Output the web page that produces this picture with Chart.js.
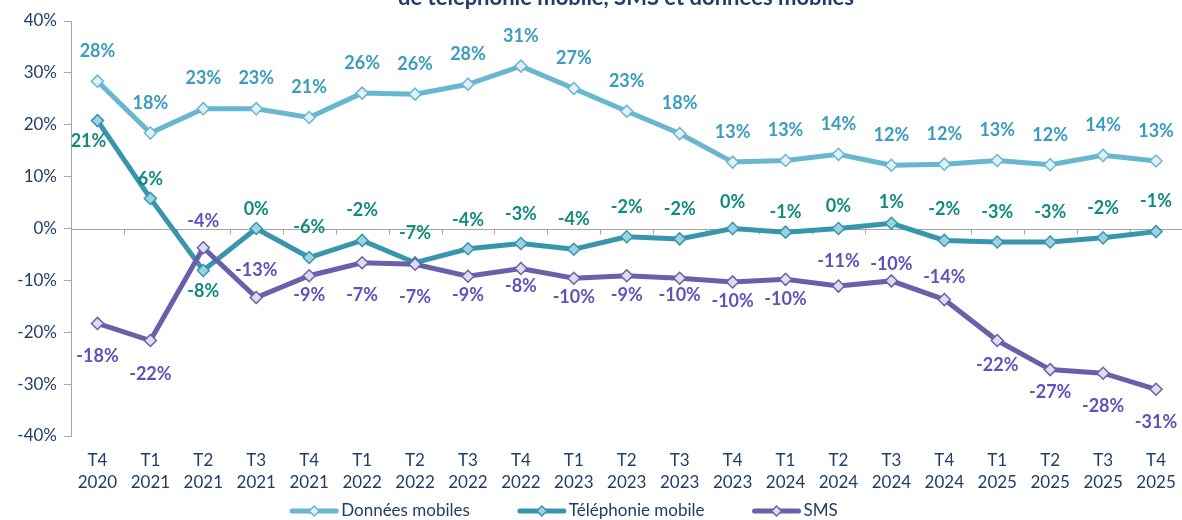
<!DOCTYPE html>
<html lang="fr">
<head>
<meta charset="utf-8">
<title>Évolution des volumes de téléphonie mobile, SMS et données mobiles</title>
<script src="https://cdn.jsdelivr.net/npm/chart.js@4/dist/chart.umd.min.js"></script>
<style>
  html, body { margin: 0; padding: 0; background: #fff; overflow: hidden; }
  #wrap { position: relative; width: 1190px; height: 520px; }
</style>
</head>
<body>
<div id="wrap"><canvas id="evo"></canvas></div>
<script>
// trimestres
const categories = [
  ['T4','2020'], ['T1','2021'], ['T2','2021'], ['T3','2021'], ['T4','2021'],
  ['T1','2022'], ['T2','2022'], ['T3','2022'], ['T4','2022'],
  ['T1','2023'], ['T2','2023'], ['T3','2023'], ['T4','2023'],
  ['T1','2024'], ['T2','2024'], ['T3','2024'], ['T4','2024'],
  ['T1','2025'], ['T2','2025'], ['T3','2025'], ['T4','2025']
];

// évolutions annuelles en %
const donnees = [28.4, 18.4, 23.1, 23.1, 21.4, 26.1, 25.9, 27.8, 31.3, 27.0, 22.6, 18.3, 12.8, 13.1, 14.3, 12.2, 12.4, 13.1, 12.3, 14.1, 13.0];
const telephonie = [20.8, 5.8, -8.1, 0.0, -5.6, -2.3, -6.6, -3.9, -2.9, -4.0, -1.6, -2.0, 0.0, -0.7, 0.0, 1.0, -2.3, -2.6, -2.6, -1.8, -0.6];
const sms = [-18.3, -21.6, -3.7, -13.3, -9.1, -6.6, -6.9, -9.2, -7.7, -9.6, -9.1, -9.6, -10.3, -9.8, -11.1, -10.1, -13.7, -21.6, -27.2, -27.9, -31.0];

const yTicks = [-40, -30, -20, -10, 0, 10, 20, 30, 40];

// placement des étiquettes (décalage vertical, px)
const donneesLabelDy = -30;
const telephonieLabelDy = [21, -19, 21, -19, -30, -30, -30, -29, -29, -30, -30, -30, -26, -20, -22, -21, -31, -30, -30, -30, -30];
const telephonieLabelDx = [-9, 0, 0, 0, 0, 0, 0, 0, 0, 0, 0, 0, 0, 0, 0, 0, 0, 0, 0, 0, 0];
const smsLabelDy = [33, 34, -27, -27, 19, 32, 33, 19, 18, 19, 19, 17, 19, 20, -25, -17, -22, 25, 23, 33, 33];

const FONT = 'Lato, "Liberation Sans", sans-serif';
const AXIS_GREY = '#a6a6a6';
const NAVY = '#1f3d6b';

// axe horizontal sur 0 % avec graduations entre catégories
const zeroLine = {
  id: 'zeroLine',
  beforeDatasetsDraw(chart) {
    const { ctx, chartArea: a, scales: { y } } = chart;
    const y0 = Math.round(y.getPixelForValue(0)) + 0.5;
    const step = (a.right - a.left) / categories.length;
    ctx.save();
    ctx.strokeStyle = AXIS_GREY;
    ctx.lineWidth = 1;
    ctx.beginPath();
    ctx.moveTo(a.left, y0);
    ctx.lineTo(a.right, y0);
    for (let i = 1; i <= categories.length; i++) {
      const gx = Math.round(a.left + i * step) + 0.5;
      ctx.moveTo(gx, y0);
      ctx.lineTo(gx, y0 + 5);
    }
    ctx.stroke();
    ctx.restore();
  }
};

// étiquettes de valeurs
const valueLabels = {
  id: 'valueLabels',
  afterDatasetsDraw(chart) {
    const { ctx } = chart;
    ctx.save();
    ctx.font = 'bold 18px ' + FONT;
    ctx.textAlign = 'center';
    ctx.textBaseline = 'middle';
    chart.data.datasets.forEach((ds, i) => {
      const meta = chart.getDatasetMeta(i);
      ctx.fillStyle = ds.labelColor;
      meta.data.forEach((pt, j) => {
        const dy = Array.isArray(ds.labelDy) ? ds.labelDy[j] : ds.labelDy;
        const dx = ds.labelDx ? ds.labelDx[j] : 0;
        ctx.fillText(Math.round(ds.data[j]) + '%', pt.x + dx, pt.y + dy);
      });
    });
    ctx.restore();
  }
};

// titre (coupé en haut) et légende en bas
const titleAndLegend = {
  id: 'titleAndLegend',
  afterDraw(chart) {
    const { ctx } = chart;
    ctx.save();
    ctx.fillStyle = NAVY;
    ctx.font = 'bold 22px ' + FONT;
    ctx.textAlign = 'center';
    ctx.textBaseline = 'alphabetic';
    ctx.fillText('de téléphonie mobile, SMS et données mobiles', 626, 5);

    const sets = [0, 1, 2].map(i => chart.data.datasets[i]);
    ctx.font = '17px ' + FONT;
    const sample = 48, gap = 48, pad = 3;
    const widths = sets.map(ds => sample + pad + ctx.measureText(ds.label).width);
    const total = widths.reduce((s, w) => s + w, 0) + gap * (sets.length - 1);
    let lx = 564 - total / 2;
    const ly = 511;
    sets.forEach((ds, k) => {
      ctx.strokeStyle = ds.borderColor;
      ctx.lineWidth = 5;
      ctx.lineCap = 'round';
      ctx.beginPath();
      ctx.moveTo(lx + 2, ly);
      ctx.lineTo(lx + sample - 2, ly);
      ctx.stroke();
      const cx = lx + sample / 2, r = 5;
      ctx.fillStyle = ds.pointBackgroundColor;
      ctx.lineWidth = 1.5;
      ctx.beginPath();
      ctx.moveTo(cx - r, ly);
      ctx.lineTo(cx, ly - r);
      ctx.lineTo(cx + r, ly);
      ctx.lineTo(cx, ly + r);
      ctx.closePath();
      ctx.fill();
      ctx.stroke();
      ctx.fillStyle = NAVY;
      ctx.textAlign = 'left';
      ctx.textBaseline = 'middle';
      ctx.fillText(ds.label, lx + sample + pad, ly);
      lx += widths[k] + gap;
    });
    ctx.restore();
  }
};

const serie = (label, data, line, fill, labelColor, order) => ({
  label, data, order,
  borderColor: line,
  borderWidth: 5,
  tension: 0,
  pointStyle: 'rectRot',
  pointRadius: 6,
  pointHoverRadius: 6,
  pointBackgroundColor: fill,
  pointBorderColor: line,
  pointBorderWidth: 1.5,
  labelColor
});

const dsDonnees = serie('Données mobiles', donnees, '#68b6d0', '#e0f0f6', '#3b9cbf', 2);
dsDonnees.labelDy = donneesLabelDy;
const dsTel = serie('Téléphonie mobile', telephonie, '#3795ae', '#9dd2e3', '#128a7e', 1);
dsTel.labelDy = telephonieLabelDy;
dsTel.labelDx = telephonieLabelDx;
const dsSms = serie('SMS', sms, '#6860aa', '#dedcef', '#5f52bb', 0);
dsSms.labelDy = smsLabelDy;

new Chart(document.getElementById('evo'), {
  type: 'line',
  data: { labels: categories, datasets: [dsDonnees, dsTel, dsSms] },
  options: {
    responsive: true,
    maintainAspectRatio: false,
    animation: false,
    devicePixelRatio: 1,
    layout: { padding: { top: 21, right: 3, left: 0, bottom: 0 } },
    plugins: { legend: { display: false }, tooltip: { enabled: false } },
    scales: {
      x: {
        offset: true,
        grid: { display: false, drawTicks: false },
        border: { display: false },
        ticks: { color: NAVY, font: { family: FONT, size: 17, lineHeight: 1.3 }, padding: 13, maxRotation: 0, autoSkip: false },
        afterFit(scale) { scale.height = 84; }
      },
      y: {
        min: -40, max: 40,
        afterBuildTicks(scale) { scale.ticks = yTicks.map(v => ({ value: v })); },
        grid: { drawOnChartArea: false, drawTicks: true, tickLength: 7, color: AXIS_GREY },
        border: { display: true, color: AXIS_GREY, width: 1 },
        ticks: { color: NAVY, font: { family: FONT, size: 17 }, padding: 7, callback: v => v + '%' },
        afterFit(scale) { scale.width = 71; }
      }
    }
  },
  plugins: [zeroLine, valueLabels, titleAndLegend]
});
</script>
</body>
</html>
